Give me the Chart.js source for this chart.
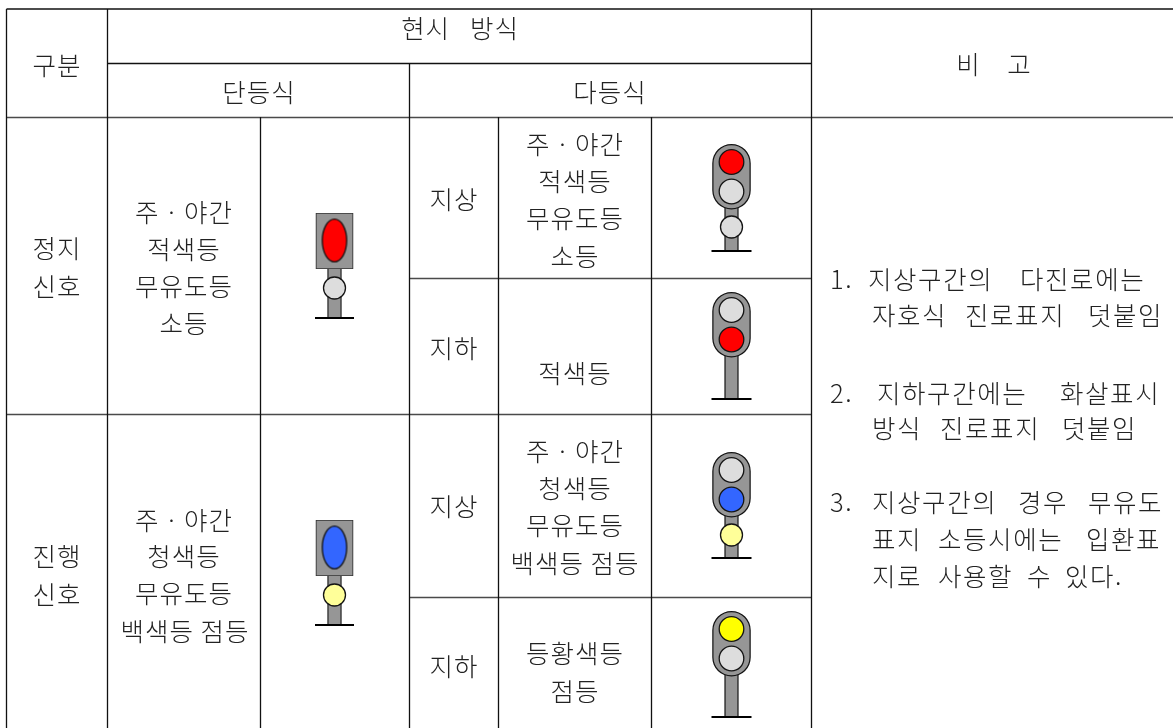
<!DOCTYPE html>
<html lang="ko"><head><meta charset="utf-8">
<style>html,body{margin:0;padding:0;background:#fff}#wrap{width:1173px;height:728px;position:relative;overflow:hidden}canvas{display:block}</style>
<script src="https://cdn.jsdelivr.net/npm/chart.js@4"></script></head>
<body><div id="wrap"><canvas id="c" width="1173" height="728"></canvas></div>
<script>
// Table rules: [x1, y1, x2, y2]
const ruleDark = [[6.5,9,1173,9],[107.5,63.5,811.5,63.5],[6.5,9,6.5,728],[107.5,9,107.5,728],[260.5,117,260.5,728],[409.5,63,409.5,728],[498.5,117,498.5,728],[651.5,117,651.5,728],[811.5,9,811.5,728]];
const ruleGrey = [[6.5,117.5,1173,117.5],[409.5,278.5,811.5,278.5],[6.5,414.5,811.5,414.5],[409.5,597.5,811.5,597.5]];
// Signals
const RED='#ff0000',OFF='#dddddd',BLUE='#3366ff',PALE='#ffff99',YEL='#ffff00';
const singleX = [334.5,334.5], singleTop = [213,520], singleLamp = [RED,BLUE], singleMarker = [OFF,PALE];
const multiTop = [144,292,452,611], multiBase = [251,399,558,717];
const multiUpper = [RED,OFF,OFF,YEL], multiLower = [OFF,RED,BLUE,OFF], multiMarker = [OFF,null,PALE,null];
// Text: [text, x centre, y centre]
const centred = [
 ['구분',57,65],['현시   방식',460,28],['비    고',994,64],['단등식',259,92],['다등식',610,92],
 ['정지',57,248],['신호',57,286],['진행',57,556],['신호',57,594],
 ['주ㆍ야간',184,212],['적색등',184,249],['무유도등',184,286],['소등',184,323],
 ['주ㆍ야간',184,520],['청색등',184,556],['무유도등',184,593],['백색등 점등',185,631],
 ['지상',454,199],['지하',454,348],['지상',454,506],['지하',454,666],
 ['주ㆍ야간',575,144],['적색등',575,181],['무유도등',575,218],['소등',575,256],['적색등',575,373],
 ['주ㆍ야간',575,451],['청색등',575,488],['무유도등',575,525],['백색등 점등',575,563],
 ['등황색등',575,653],['점등',575,691]];
// Notes: [word, left x, y centre]
const notes = [
 ['1.',830,279],['지상구간의',868,279],['다진로에는',1020,279],
 ['자호식',872,315],['진로표지',965,315],['덧붙임',1088,315],
 ['2.',830,393],['지하구간에는',877,393],['화살표시',1060,393],
 ['방식',872,428],['진로표지',940,428],['덧붙임',1062,428],
 ['3.',830,502],['지상구간의',872,502],['경우',1018,502],['무유도',1088,502],
 ['표지',872,539],['소등시에는',938,539],['입환표',1086,539],
 ['지로',872,576],['사용할',938,576],['수',1027,576],['있다.',1065,576]];

const INK='#141414', GREY='#969696';
function seg(x1,y1,x2,y2,color,width,cap){return {data:[{x:x1,y:y1},{x:x2,y:y2}],borderColor:color,borderWidth:width,borderCapStyle:cap||'butt',pointRadius:0,fill:false,tension:0};}
function dot(x,y,color,r){return {data:[{x,y}],showLine:false,pointStyle:'circle',pointRadius:r,pointBackgroundColor:color,pointBorderColor:INK,pointBorderWidth:1.3};}
function ellipseIcon(color){const c=document.createElement('canvas');c.width=30;c.height=48;const g=c.getContext('2d');g.beginPath();g.ellipse(15,24,12.2,21.4,0,0,Math.PI*2);g.fillStyle=color;g.fill();g.lineWidth=1.3;g.strokeStyle=INK;g.stroke();return c;}
const ds=[];
ruleGrey.forEach(r=>ds.push(seg(r[0],r[1],r[2],r[3],'#4a4a4a',1.6)));
ruleDark.forEach(r=>ds.push(seg(r[0],r[1],r[2],r[3],'#111',1.3)));
// single-lens signals
singleTop.forEach((top,i)=>{const x=singleX[i],base=top+105;
 ds.push(seg(x,top+55,x,base,INK,14.2));
 ds.push(seg(x,top+55,x,base,GREY,12));
 ds.push(seg(x-19.5,base,x+19.5,base,'#000',2));
 ds.push(seg(x,top,x,top+56,'#333',37.5));
 ds.push(seg(x,top+.8,x,top+55.2,GREY,35.8));
 ds.push({data:[{x,y:top+27.5}],showLine:false,pointStyle:ellipseIcon(singleLamp[i])});
 ds.push(dot(x,top+75,singleMarker[i],11));
});
// multi-lens signals
multiTop.forEach((top,i)=>{const x=731.5,base=multiBase[i],bot=top+65.5;
 ds.push(seg(x,top+30,x,base,INK,14.2));
 ds.push(seg(x,top+30,x,base,GREY,11.8));
 ds.push(seg(x-20,base,x+20,base,'#000',2));
 ds.push(seg(x,top+19.2,x,bot-19.2,INK,38.5,'round'));
 ds.push(seg(x,top+19.2,x,bot-19.2,GREY,36,'round'));
 ds.push(dot(x,top+18,multiUpper[i],12.3));
 ds.push(dot(x,top+47.5,multiLower[i],12.3));
 if(multiMarker[i]) ds.push(dot(x,bot+17.5,multiMarker[i],11));
});
const textPlugin={id:'tableText',afterDatasetsDraw(ch){const g=ch.ctx,X=ch.scales.x,Y=ch.scales.y;g.save();
 g.font='300 25.5px "Noto Sans CJK KR"';g.fillStyle='#222';g.textBaseline='middle';
 try{g.letterSpacing='1px';}catch(e){}
 g.textAlign='center';centred.forEach(t=>g.fillText(t[0],X.getPixelForValue(t[1]),Y.getPixelForValue(t[2])));
 try{g.letterSpacing='1.6px';}catch(e){}
 g.textAlign='left';notes.forEach(t=>g.fillText(t[0],X.getPixelForValue(t[1]),Y.getPixelForValue(t[2])));
 g.restore();}};
new Chart(document.getElementById('c'),{type:'scatter',data:{datasets:ds.map((d,i)=>Object.assign({showLine:true,order:-i,clip:false},d))},plugins:[textPlugin],
 options:{responsive:false,animation:false,devicePixelRatio:1,layout:{padding:0,autoPadding:false},
  plugins:{legend:{display:false},tooltip:{enabled:false},title:{display:false}},
  scales:{x:{type:'linear',min:0,max:1173,display:false},y:{type:'linear',min:0,max:728,reverse:true,display:false}}}});
</script></body></html>
